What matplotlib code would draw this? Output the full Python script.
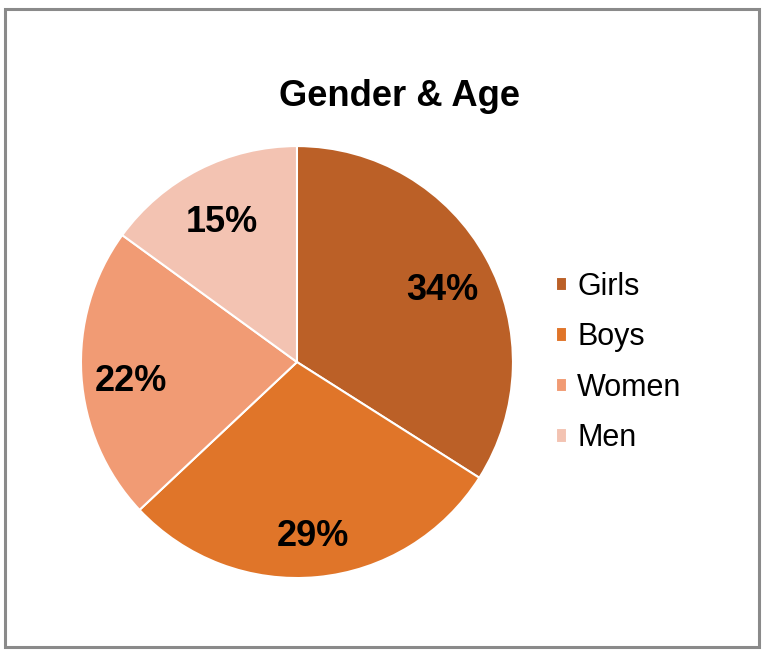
import matplotlib
matplotlib.use("Agg")
import matplotlib.pyplot as plt
from matplotlib.patches import Rectangle

plt.rcParams['font.family'] = ['Liberation Sans', 'DejaVu Sans']

# data
labels = ['Girls', 'Boys', 'Women', 'Men']
shares = [34, 29, 22, 15]
colors = ['#BB6027', '#E07529', '#F19B74', '#F3C3B2']

fig = plt.figure(figsize=(7.64, 6.5), dpi=100)

# grey chart frame
fig.patches.append(Rectangle((0.006, 0.004), 0.988, 0.982, transform=fig.transFigure,
                             fill=False, edgecolor='#8a8a8a', linewidth=2.2))

ax = fig.add_axes([0.106, 0.1107, 0.5654, 0.6646])
wedges, texts, autotexts = ax.pie(shares, colors=colors, startangle=90, counterclock=False,
                                  autopct='%d%%', pctdistance=0.77,
                                  wedgeprops=dict(edgecolor='white', linewidth=1.5),
                                  textprops=dict(fontsize=26, fontweight='bold', color='black'))
# labels sit a little lower in the original
for t in autotexts:
    x, y = t.get_position()
    t.set_position((x, y - 0.04))
ax.set_xlim(-1, 1)
ax.set_ylim(-1, 1)
ax.set_aspect('equal')

fig.text(0.523, 0.851, 'Gender & Age', ha='center', va='center', fontsize=26.2, fontweight='bold')

fig.legend(wedges, labels, loc='center left', bbox_to_anchor=(0.728, 0.442), frameon=False,
           fontsize=22, handlelength=0.36, handleheight=0.36, handletextpad=0.33,
           labelspacing=0.67, borderpad=0, borderaxespad=0)

fig.savefig('out.png', dpi=100, facecolor='white')
